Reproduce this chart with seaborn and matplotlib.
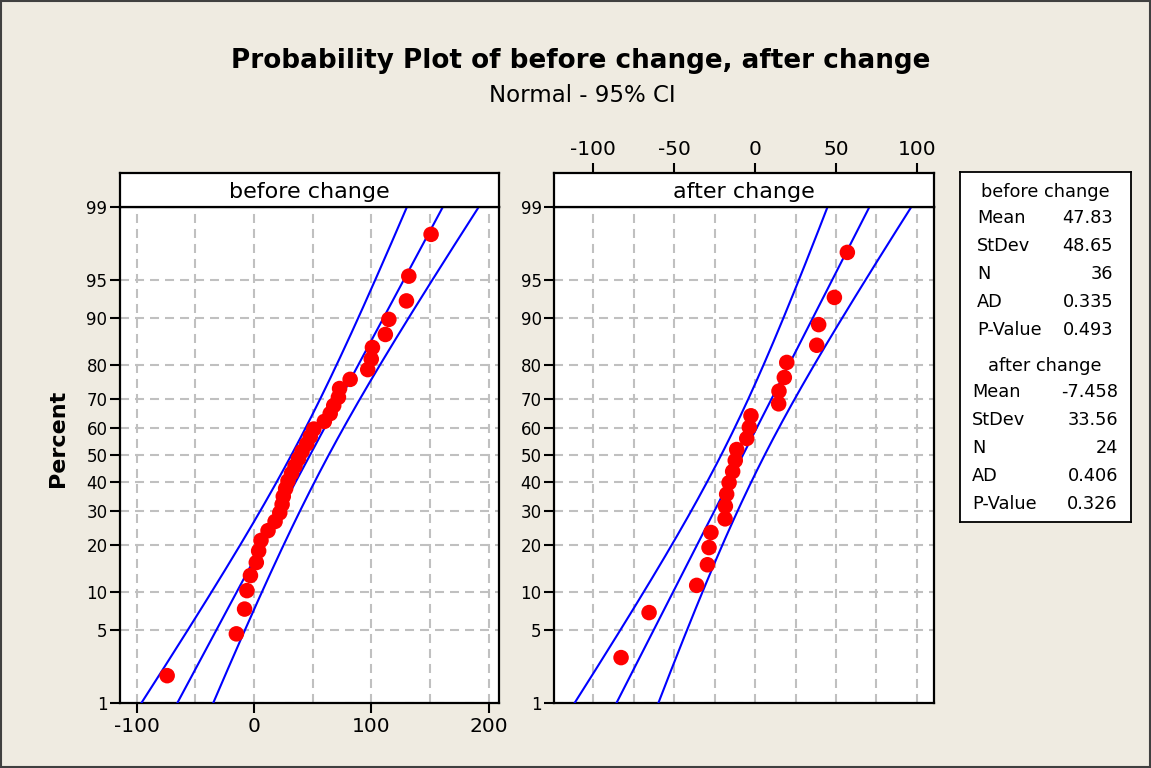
import numpy as np
import pandas as pd
import matplotlib
matplotlib.use("Agg")
import matplotlib.pyplot as plt
from matplotlib.patches import Rectangle
import seaborn as sns
from statistics import NormalDist

# ---- data -----------------------------------------------------------------
before_change = [-74, -15, -8, -6, -3, 2, 4, 6, 12, 18, 22, 24, 25, 27, 29, 32,
                 35, 38, 41, 45, 48, 51, 60, 65, 68, 72, 73, 82, 97, 100, 101,
                 112, 115, 130, 132, 151]
after_change = [-82.7, -65.4, -36.0, -29.4, -28.4, -27.2, -18.5, -18.3, -17.5,
                -16.0, -13.8, -12.2, -11.3, -5.1, -3.5, -2.5, 14.6, 14.8, 18.1,
                19.6, 38.1, 39.3, 49.0, 57.0]

stat_labels = ["Mean", "StDev", "N", "AD", "P-Value"]
before_stats = ["47.83", "48.65", "36", "0.335", "0.493"]
after_stats = ["-7.458", "33.56", "24", "0.406", "0.326"]

percent_ticks = [1, 5, 10, 20, 30, 40, 50, 60, 70, 80, 90, 95, 99]
before_xticks = [-100, 0, 100, 200]
before_xgrid = [-100, -50, 0, 50, 100, 150, 200]
after_xticks = [-100, -50, 0, 50, 100]
after_xgrid = [-100, -75, -50, -25, 0, 25, 50, 75, 100]

# ---- style ----------------------------------------------------------------
sns.set_style("white")
plt.rcParams["font.family"] = ["DejaVu Sans"]
plt.rcParams["axes.unicode_minus"] = False
plt.rcParams["lines.scale_dashes"] = False
plt.rcParams["text.color"] = "black"
plt.rcParams["xtick.color"] = "black"
plt.rcParams["ytick.color"] = "black"
plt.rcParams["xtick.labelcolor"] = "black"
plt.rcParams["ytick.labelcolor"] = "black"

BG = "#EFEBE1"
RED = "#FF0000"
BLUE = "#0000FF"
GRID = "#C0C0C0"

W, H = 1151, 768
fig = plt.figure(figsize=(W / 100, H / 100), dpi=100, facecolor=BG)


def fx(px):
    return px / W


def fy(py):
    return 1 - py / H


nd = NormalDist()
zlo, zhi = nd.inv_cdf(0.01), nd.inv_cdf(0.99)
ytick_z = [nd.inv_cdf(p / 100) for p in percent_ticks]


def prob_panel(left, right, values, stats, xlim, xticks, xgrid, name,
               bottom_labels, top_labels):
    ax = fig.add_axes([fx(left), fy(703), fx(right) - fx(left), fy(207) - fy(703)])
    hdr = fig.add_axes([fx(left), fy(207), fx(right) - fx(left), fy(173) - fy(207)])
    ax.set_facecolor("white")

    vals = np.sort(np.asarray(values, dtype=float))
    n = len(vals)
    ranks = np.arange(1, n + 1)
    pts = pd.DataFrame({
        "value": vals,
        "z": [nd.inv_cdf((i - 0.3) / (n + 0.4)) for i in ranks],
    })

    mean, sd = float(stats[0]), float(stats[1])
    zz = np.linspace(zlo - 0.1, zhi + 0.1, 300)
    fit = mean + sd * zz
    half = 1.96 * sd * np.sqrt(1 / n + zz ** 2 / (2 * n))
    lines = pd.concat([
        pd.DataFrame({"x": fit - half, "z": zz, "band": "lower"}),
        pd.DataFrame({"x": fit, "z": zz, "band": "fit"}),
        pd.DataFrame({"x": fit + half, "z": zz, "band": "upper"}),
    ])

    sns.lineplot(data=lines, x="x", y="z", units="band", estimator=None,
                 sort=False, color=BLUE, lw=1.5, ax=ax, zorder=3)
    sns.scatterplot(data=pts, x="value", y="z", color=RED, s=125,
                    edgecolor="none", ax=ax, zorder=4)

    ax.set_xlim(*xlim)
    ax.set_ylim(zlo, zhi)
    ax.set_xlabel("")
    ax.set_ylabel("")

    ax.set_yticks(ytick_z)
    ax.set_yticklabels([str(p) for p in percent_ticks])
    ax.tick_params(axis="y", direction="out", length=7, width=1.5,
                   labelsize=12, pad=2, left=True)

    if bottom_labels:
        ax.set_xticks(xticks)
        ax.set_xticklabels([str(t) for t in xticks])
        ax.set_xticks([g for g in xgrid if g not in xticks], minor=True)
        ax.tick_params(axis="x", which="major", direction="out", length=7,
                       width=1.5, labelsize=14.5, pad=3, bottom=True)
        ax.tick_params(axis="x", which="minor", length=0)
    else:
        ax.set_xticks(xgrid)
        ax.tick_params(axis="x", which="both", length=0, labelbottom=False)

    ax.set_axisbelow(True)
    ax.grid(True, which="both", axis="both", color=GRID, lw=1.5,
            linestyle=(0, (6.5, 4.3)))
    for sp in ax.spines.values():
        sp.set_visible(True)
        sp.set_color("black")
        sp.set_linewidth(1.6)

    hdr.set_facecolor("white")
    hdr.set_xlim(*xlim)
    hdr.set_ylim(0, 1)
    hdr.set_yticks([])
    if top_labels:
        hdr.xaxis.tick_top()
        hdr.set_xticks(xticks)
        hdr.set_xticklabels([str(t) for t in xticks])
        hdr.tick_params(axis="x", direction="out", length=7, width=1.5,
                        labelsize=14.5, pad=3, top=True, bottom=False)
    else:
        hdr.set_xticks([])
    for sp in hdr.spines.values():
        sp.set_visible(True)
        sp.set_color("black")
        sp.set_linewidth(1.6)
    hdr.text(0.5, 0.45, name, transform=hdr.transAxes, ha="center",
             va="center", fontsize=16)
    return ax


prob_panel(120, 499, before_change, before_stats, (-114.2, 208.9),
           before_xticks, before_xgrid, "before change", True, False)
prob_panel(554, 934, after_change, after_stats, (-124.1, 110.5),
           after_xticks, after_xgrid, "after change", False, True)

# ---- titles -----------------------------------------------------------------
fig.text(fx(581), fy(61), "Probability Plot of before change, after change",
         ha="center", va="center", fontsize=18.9, fontweight="bold")
fig.text(fx(582), fy(96), "Normal - 95% CI", ha="center", va="center",
         fontsize=16.5)
fig.text(fx(58), fy(438), "Percent", ha="center", va="center", rotation=90,
         fontsize=16, fontweight="bold")

# ---- summary table ----------------------------------------------------------
leg = fig.add_axes([fx(960), fy(522), fx(1131) - fx(960), fy(172) - fy(522)])
leg.set_facecolor("white")
leg.set_xticks([])
leg.set_yticks([])
for sp in leg.spines.values():
    sp.set_visible(True)
    sp.set_color("black")
    sp.set_linewidth(1.3)

blocks = [("before change", before_stats, 192, 977, 1113),
          ("after change", after_stats, 366, 972, 1118)]
for head, vals, y0, xl, xr in blocks:
    fig.text(fx(1045), fy(y0), head, ha="center", va="center", fontsize=12.8)
    for k, (lab, v) in enumerate(zip(stat_labels, vals)):
        yy = y0 + 26 + k * 28
        fig.text(fx(xl), fy(yy), lab, ha="left", va="center", fontsize=12.8)
        fig.text(fx(xr), fy(yy), v, ha="right", va="center", fontsize=12.8)

fig.patches.append(Rectangle((0.001, 0.001), 0.998, 0.998,
                             transform=fig.transFigure, fill=False,
                             edgecolor="#404040", lw=1.5))

fig.savefig("out.png", dpi=100, facecolor=BG)
